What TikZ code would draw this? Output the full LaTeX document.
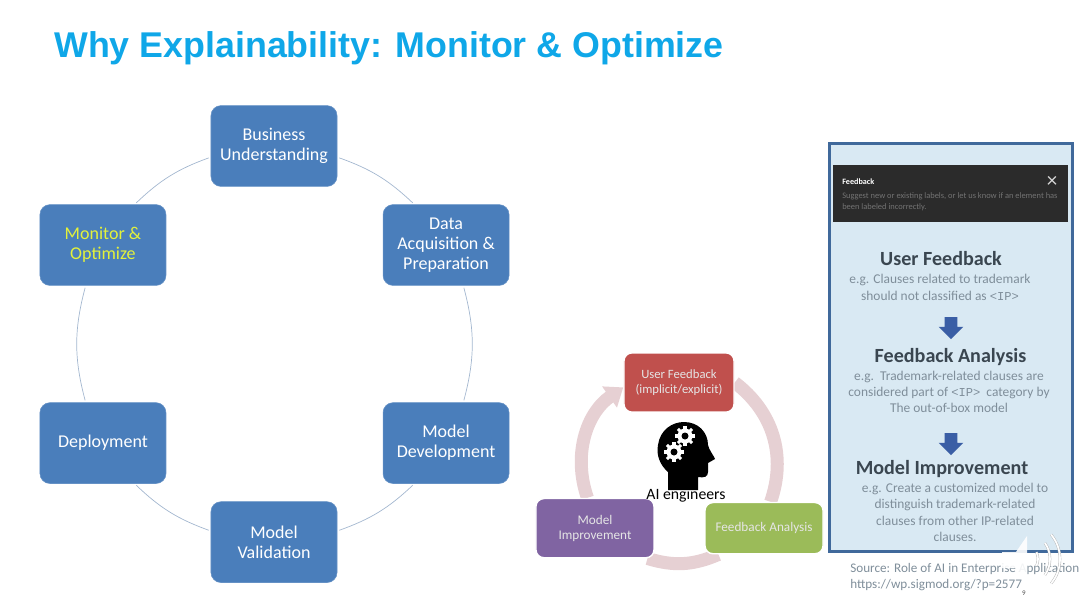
\documentclass[tikz,border=0pt]{standalone}
\usepackage{fontspec}
\setmainfont{Carlito}
\newfontfamily\titlefont{Liberation Sans}
\newfontfamily\codefont{Liberation Mono}
\usetikzlibrary{arrows.meta,positioning,shapes.arrows,backgrounds}
\definecolor{ringblue}{HTML}{4A7EBB}
\definecolor{ringline}{HTML}{A3B7CF}
\definecolor{ringyellow}{HTML}{E4F23A}
\definecolor{titlecyan}{HTML}{0FA7E8}
\definecolor{looppink}{HTML}{E6D0D3}
\definecolor{loopred}{HTML}{C0504D}
\definecolor{loopgreen}{HTML}{9BBB59}
\definecolor{looppurple}{HTML}{8064A2}
\definecolor{panelfill}{HTML}{D9E9F3}
\definecolor{panelline}{HTML}{40699B}
\definecolor{paneltext}{HTML}{3A4650}
\definecolor{panelgrey}{HTML}{7F8E9A}
\tikzset{
    ringbox/.style={draw=ringblue!85!white, fill=ringblue, rounded corners=0.25cm, align=center, text=white,
        font=\fontsize{12.8}{14.2}\selectfont, minimum width=3.15cm, minimum height=2.02cm, inner sep=0pt},
    loopbox/.style={draw=white, line width=1pt, rounded corners=0.2cm, align=center, inner sep=0pt,
        font=\fontsize{9.4}{10.6}\selectfont, text=white!90!black},
    ringarc/.style={ringline, line width=0.5pt, shorten >=1.5pt, shorten <=1.5pt},
    looparc/.style={looppink, line width=0.325cm},
    paneltitle/.style={text=paneltext, font=\fontsize{14.3}{16}\bfseries\selectfont, inner sep=0pt},
    paneldesc/.style={text=panelgrey, align=center, inner sep=0pt, font=\fontsize{9.55}{11.6}\selectfont},
    downarrow/.style={shape=single arrow, shape border rotate=270, fill=panelline!90!blue, inner sep=0.15cm,
        minimum width=0.6cm, minimum height=0.55cm, single arrow head extend=0.15cm, single arrow tip angle=90}
}
\newcommand{\ipcode}{{\codefont\fontsize{8.6}{11}\selectfont <IP>}}

\begin{document}
\begin{tikzpicture}[x=0.025cm, y=-0.025cm, on grid]
\useasboundingbox (0,0) rectangle (1080,608);
\node[anchor=west, inner sep=0pt, text=titlecyan, font=\titlefont\fontsize{25.45}{30}\bfseries\selectfont] (title) at (54,48.5) {Why Explainability: Monitor \& Optimize};

% lifecycle ring
\node[ringbox] (business) at (274,146) {Business\\Understanding};
\node[ringbox, below right=2.475cm and 4.3cm of business] (data) {Data\\Acquisition \&\\Preparation};
\node[ringbox, below=4.95cm of data] (develop) {Model\\Development};
\node[ringbox, below left=2.475cm and 4.3cm of develop] (validate) {Model\\Validation};
\node[ringbox, above left=2.475cm and 4.275cm of validate] (deploy) {Deployment};
\node[ringbox, above=4.95cm of deploy, text=ringyellow] (monitor) {Monitor \&\\Optimize};
\draw[ringarc] (business.-10) to[bend left=12] (data.128);
\draw[ringarc] (data.-67) to[bend left=15] (develop.67);
\draw[ringarc] (develop.232) to[bend left=12] (validate.10);
\draw[ringarc] (validate.170) to[bend left=12] (deploy.-52);
\draw[ringarc] (deploy.113) to[bend left=15] (monitor.247);
\draw[ringarc] (monitor.52) to[bend left=12] (business.190);

% feedback loop
\node[loopbox, fill=loopred, font=\fontsize{9}{10.2}\selectfont, minimum width=2.75cm, minimum height=1.48cm] (user) at (679,382.5) {User Feedback\\(implicit/explicit)};
\node[loopbox, fill=loopgreen, minimum width=2.95cm, minimum height=1.28cm, below right=3.64cm and 2.125cm of user] (analysis) {Feedback Analysis};
\node[loopbox, fill=looppurple, minimum width=2.95cm, minimum height=1.48cm, left=4.225cm of analysis] (improve) {Model\\Improvement};
\begin{pgfonlayer}{background}
\draw[looparc] (user.east) to[bend left=36] (analysis.76);
\draw[looparc] (analysis.210) to[bend left=20] (improve.-30);
\draw[looparc, -{Triangle[length=0.42cm, width=0.62cm]}] (improve.104) to[bend left=37] (user.185);
\end{pgfonlayer}

% engineer head
\fill[black] (668,490) -- (668,472) .. controls (660,465) and (656,455) .. (658,445)
    .. controls (660,430) and (672,422) .. (684,422) .. controls (698,422) and (708,432) .. (708,445)
    .. controls (709,450) and (714,456) .. (715,459) -- (708,463) -- (708,472)
    .. controls (708,477) and (704,478) .. (698,477) -- (698,490) -- cycle;
\foreach \gx/\gy in {685/436,674/452} {
    \foreach \a in {0,45,...,315} \draw[white, line width=2.2pt] (\gx,\gy) -- ++(\a:10);
    \fill[white] (\gx,\gy) circle (7.5);
    \fill[black] (\gx,\gy) circle (3.5);
}
\node[font=\fontsize{11.2}{12}\selectfont, inner sep=0pt] (engineers) at (686,495.5) {AI engineers};

% feedback panel
\node[draw=panelline, line width=2pt, fill=panelfill, minimum width=6.08cm, minimum height=10.18cm, inner sep=0pt] (panel) at (951,347.5) {};
\node[fill=black!83, minimum width=5.87cm, minimum height=1.42cm, inner sep=0pt] (bar) at (950.5,193.5) {};
\node[anchor=west, text=white, font=\fontsize{5.8}{7}\bfseries\selectfont, inner sep=0pt] (bartitle) at (842,182) {Feedback};
\node[anchor=north west, text=black!55, align=left, font=\fontsize{6}{8}\selectfont, inner sep=0pt] (bartext) at (842,192) {Suggest new or existing labels, or let us know if an element has\\been labeled incorrectly.};
\node[text=white!85!black, font=\fontsize{15}{15}\selectfont, inner sep=0pt] (barclose) at (1052,182) {×};
\node[paneltitle] (usertitle) at (941,259) {User Feedback};
\node[paneldesc] (userdesc) at (940,287.5) {e.g. Clauses related to trademark\\should not classified as \ipcode};
\node[downarrow] (arrowa) at (951,325) {};
\node[paneltitle] (analysistitle) at (950.5,357) {Feedback Analysis};
\node[paneldesc] (analysisdesc) at (949,392) {e.g.~~Trademark-related clauses are\\considered part of \ipcode~~category by\\The out-of-box model};
\node[downarrow] (arrowb) at (951,441) {};
\node[paneltitle] (improvetitle) at (942,469) {Model Improvement};
\node[paneldesc] (improvedesc) at (955,512.5) {e.g. Create a customized model to\\distinguish trademark-related\\clauses from other IP-related\\clauses.};
\node[anchor=north west, text=panelgrey, align=left, inner sep=0pt, font=\fontsize{9.35}{11.6}\selectfont] (source) at (850,563) {Source: Role of AI in Enterprise Application\\https://wp.sigmod.org/?p=2577};

% speaker icon
\fill[white, opacity=0.9] (1002,552) -- (1016,552) -- (1027,536) -- (1027,582) -- (1016,568) -- (1002,568) -- cycle;
\foreach \r/\b in {16/25,28/35,38/40} \draw[white!70!black, line width=0.3pt, double=white, double distance=1.2pt] (1022,559) ++(-\b:\r) arc (-\b:\b:\r);
\node[font=\fontsize{5}{6}\selectfont, text=black!70, inner sep=0pt] (pagenum) at (1024,593) {9};
\end{tikzpicture}
\end{document}
